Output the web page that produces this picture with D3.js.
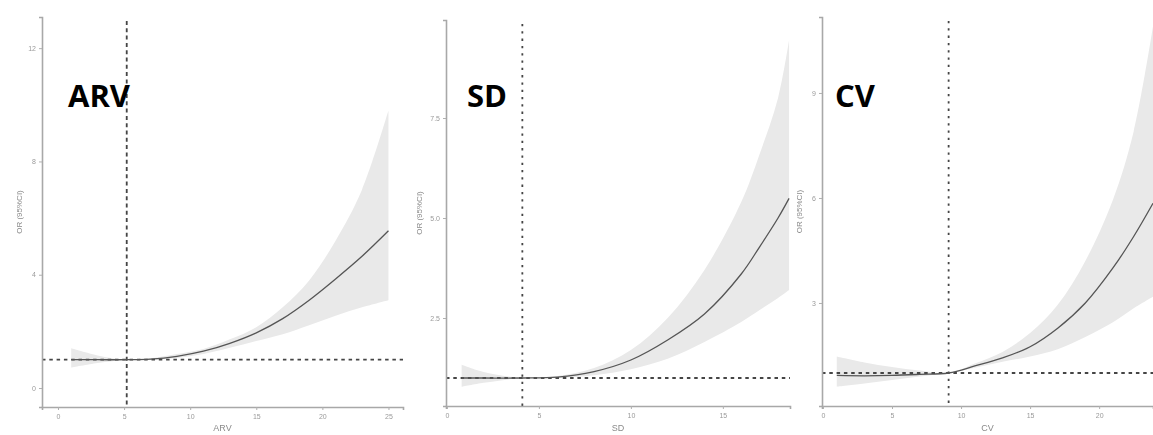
<!DOCTYPE html>
<html lang="en">
<head>
<meta charset="UTF-8">
<title>RCS OR curves</title>
<script src="https://d3js.org/d3.v7.min.js"></script>
<style>
  body { margin: 0; background: #fff; }
  svg { display: block; }
  .tick text { fill: #9a9a9a; font-family: "Liberation Sans", Arial, sans-serif; font-size: 7px; }
  .axis-title { fill: #8a8a8a; font-family: "Liberation Sans", Arial, sans-serif; font-size: 9px; }
  .panel-title { fill: #000; font-family: "Open Sans", sans-serif; font-weight: 700; font-size: 31px; }
</style>
</head>
<body>
<script>
// ARV
const arvX    = [1, 3, 5.2, 7, 9, 11, 13, 15, 17, 19, 21, 23, 25];
const arvOR   = [1.0, 1.0, 1.0, 1.02, 1.12, 1.3, 1.58, 1.95, 2.45, 3.1, 3.85, 4.65, 5.55];
const arvLow  = [0.72, 0.88, 1.0, 1.0, 1.06, 1.2, 1.42, 1.66, 1.9, 2.22, 2.55, 2.85, 3.1];
const arvHigh = [1.4, 1.15, 1.0, 1.05, 1.2, 1.38, 1.72, 2.15, 2.85, 3.8, 5.2, 7.0, 9.8];
const arvXTicks = [0, 5, 10, 15, 20, 25];
const arvYTicks = [0, 4, 8, 12];
const arvRef = 5.2;

// SD
const sdX    = [0.8, 2, 4.1, 6, 8, 10, 12, 14, 16, 17, 18, 18.6];
const sdOR   = [1.0, 1.0, 1.0, 1.02, 1.16, 1.45, 1.95, 2.6, 3.6, 4.28, 5.0, 5.49];
const sdLow  = [0.78, 0.88, 1.0, 1.0, 1.07, 1.22, 1.48, 1.9, 2.4, 2.7, 3.0, 3.2];
const sdHigh = [1.33, 1.15, 1.0, 1.05, 1.25, 1.7, 2.5, 3.7, 5.4, 6.6, 8.0, 9.45];
const sdXTicks = [0, 5, 10, 15];
const sdYTicks = [2.5, 5.0, 7.5];
const sdRef = 4.1;

// CV
const cvX    = [1, 3, 5, 7, 9.1, 11, 13, 15, 17, 19, 21, 22.5, 23.9];
const cvOR   = [0.93, 0.92, 0.93, 0.96, 1.0, 1.2, 1.43, 1.75, 2.28, 3.0, 4.0, 4.9, 5.85];
const cvLow  = [0.61, 0.7, 0.8, 0.9, 1.0, 1.15, 1.32, 1.47, 1.68, 2.03, 2.45, 2.85, 3.18];
const cvHigh = [1.47, 1.3, 1.17, 1.07, 1.0, 1.27, 1.6, 2.14, 2.95, 4.2, 5.95, 7.9, 10.9];
const cvXTicks = [0, 5, 10, 15, 20];
const cvYTicks = [3, 6, 9];
const cvRef = 9.1;

const W = 1153, H = 435;
const svg = d3.select("body").append("svg").attr("width", W).attr("height", H);
const defs = svg.append("defs");

defs.append("filter").attr("id", "soft")
  .append("feGaussianBlur").attr("stdDeviation", 0.55);

const panels = [
  { name: "ARV", x: arvX, or: arvOR, lo: arvLow, hi: arvHigh, xt: arvXTicks, yt: arvYTicks, ref: arvRef, yfmt: d3.format("d"),
    left: 42, right: 403, top: 17, bottom: 407, xdom: [-1.21, 26.1], ydom: [-0.67, 13.1], ylab: 22, title: [68, 107], dash: "4,3.3" },
  { name: "SD", x: sdX, or: sdOR, lo: sdLow, hi: sdHigh, xt: sdXTicks, yt: sdYTicks, ref: sdRef, yfmt: d3.format(".1f"),
    left: 446, right: 790, top: 20, bottom: 406, xdom: [-0.05, 18.65], ydom: [0.3, 9.95], ylab: 422, title: [467, 107], dash: "2.3,5" },
  { name: "CV", x: cvX, or: cvOR, lo: cvLow, hi: cvHigh, xt: cvXTicks, yt: cvYTicks, ref: cvRef, yfmt: d3.format("d"),
    left: 822, right: 1153, top: 17, bottom: 406, xdom: [-0.07, 23.9], ydom: [0.057, 11.17], ylab: 802, title: [835, 107], dash: "2.3,5" }
];

const smooth = d3.curveCatmullRom.alpha(0.5);

panels.forEach((p, pi) => {
  const x = d3.scaleLinear().domain(p.xdom).range([p.left, p.right]);
  const y = d3.scaleLinear().domain(p.ydom).range([p.bottom, p.top]);
  const rows = p.x.map((v, i) => ({ x: v, or: p.or[i], lo: p.lo[i], hi: p.hi[i] }));

  const g = svg.append("g").attr("filter", "url(#soft)");
  const clipId = "clip" + pi;
  defs.append("clipPath").attr("id", clipId)
    .append("rect").attr("x", p.left).attr("y", p.top - 5)
    .attr("width", p.right - p.left).attr("height", p.bottom - p.top + 5);

  const plot = g.append("g").attr("clip-path", `url(#${clipId})`);

  // CI band
  plot.append("path").datum(rows)
    .attr("fill", "#e9e9e9")
    .attr("d", d3.area().x(d => x(d.x)).y0(d => y(d.lo)).y1(d => y(d.hi)).curve(smooth));

  // reference lines
  plot.append("line")
    .attr("x1", p.left).attr("x2", p.right).attr("y1", y(1)).attr("y2", y(1))
    .attr("stroke", "#444").attr("stroke-width", 1.8).attr("stroke-dasharray", "3.5,3.8");
  plot.append("line")
    .attr("x1", x(p.ref)).attr("x2", x(p.ref)).attr("y1", p.top + 4).attr("y2", p.bottom)
    .attr("stroke", "#444").attr("stroke-width", 1.8).attr("stroke-dasharray", p.dash);

  // OR curve
  plot.append("path").datum(rows)
    .attr("fill", "none").attr("stroke", "#555").attr("stroke-width", 1.3)
    .attr("d", d3.line().x(d => x(d.x)).y(d => y(d.or)).curve(smooth));

  // axes
  const xa = g.append("g").attr("transform", `translate(0,${p.bottom})`)
    .call(d3.axisBottom(x).tickValues(p.xt).tickSize(3).tickPadding(4));
  const ya = g.append("g").attr("transform", `translate(${p.left},0)`)
    .call(d3.axisLeft(y).tickValues(p.yt).tickFormat(p.yfmt).tickSize(3).tickPadding(3));
  [xa, ya].forEach(a => {
    a.select(".domain").attr("stroke", "#a8a8a8").attr("stroke-width", 1.6);
    a.selectAll(".tick line").attr("stroke", "#b0b0b0");
  });

  g.append("text").attr("class", "axis-title")
    .attr("x", (p.left + p.right) / 2).attr("y", 431).attr("text-anchor", "middle")
    .text(p.name);
  g.append("text").attr("class", "axis-title")
    .attr("transform", `translate(${p.ylab},${(p.top + p.bottom) / 2}) rotate(-90)`)
    .attr("text-anchor", "middle").style("font-size", "8px")
    .text("OR (95%CI)");

  svg.append("text").attr("class", "panel-title")
    .attr("x", p.title[0]).attr("y", p.title[1]).text(p.name);
});
</script>
</body>
</html>
